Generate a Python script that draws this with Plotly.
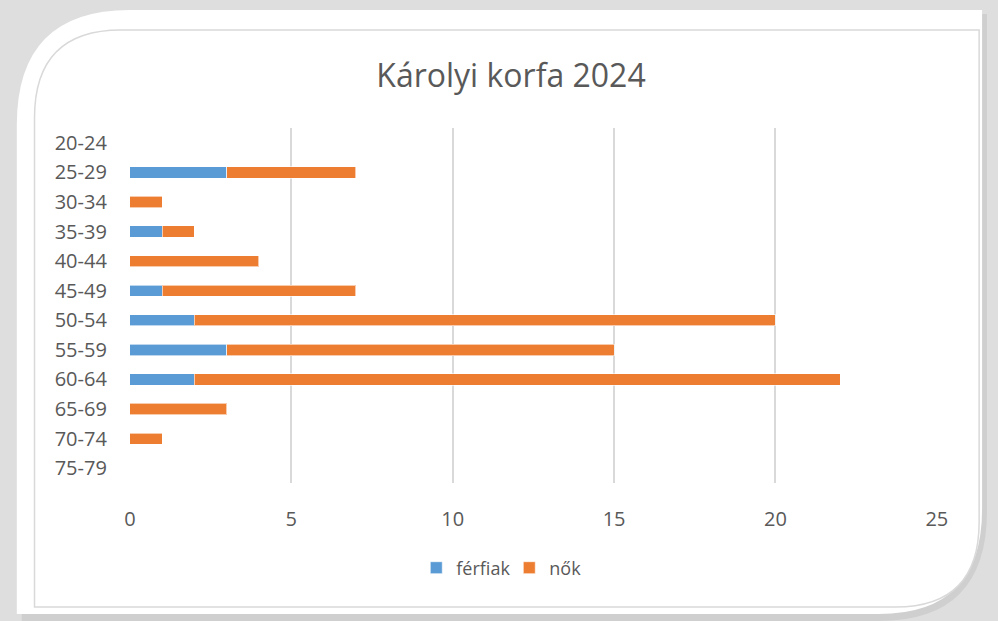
import plotly.graph_objects as go

korcsoport = ['20-24', '25-29', '30-34', '35-39', '40-44', '45-49',
              '50-54', '55-59', '60-64', '65-69', '70-74', '75-79']
ferfiak = [0, 3, 0, 1, 0, 1, 2, 3, 2, 0, 0, 0]
nok = [0, 4, 1, 1, 4, 6, 18, 12, 20, 3, 1, 0]
x_ticks = [0, 5, 10, 15, 20, 25]

W, H = 998, 621
FONT = 'Open Sans'
TXT = '#595959'


def px(x):
    return x / W


def py(y):
    return 1 - y / H


def rounded_box(x0, y0, x1, y1, r_tl, r_br):
    # rectangle in pixel coords, top-left and bottom-right corners rounded
    p = [
        f'M {px(x0)},{py(y0 + r_tl)}',
        f'Q {px(x0)},{py(y0)} {px(x0 + r_tl)},{py(y0)}',
        f'L {px(x1)},{py(y0)}',
        f'L {px(x1)},{py(y1 - r_br)}',
        f'Q {px(x1)},{py(y1)} {px(x1 - r_br)},{py(y1)}',
        f'L {px(x0)},{py(y1)}',
        'Z',
    ]
    return ' '.join(p)


fig = go.Figure()
fig.add_trace(go.Bar(y=korcsoport, x=ferfiak, name='férfiak', orientation='h',
                     marker=dict(color='#5B9BD5', line=dict(color='rgba(255,255,255,0.6)', width=1))))
fig.add_trace(go.Bar(y=korcsoport, x=nok, name='nők', orientation='h',
                     marker=dict(color='#ED7D31', line=dict(color='rgba(255,255,255,0.6)', width=1))))

shapes = [
    # soft shadow
    dict(type='path', xref='paper', yref='paper', layer='below',
         path=rounded_box(16, 14, 998, 621, 115, 110),
         fillcolor='#cfcfcf', line=dict(width=0)),
    # white card
    dict(type='path', xref='paper', yref='paper', layer='below',
         path=rounded_box(11, 10, 993, 614, 115, 105),
         fillcolor='white', line=dict(width=0)),
    # inner chart border
    dict(type='path', xref='paper', yref='paper', layer='below',
         path=rounded_box(29, 30, 990, 607, 88, 85),
         fillcolor='white', line=dict(color='#d9d9d9', width=1.5)),
]

fig.update_layout(
    width=W, height=H,
    margin=dict(l=0, r=0, t=0, b=0),
    paper_bgcolor='#dedede',
    plot_bgcolor='rgba(0,0,0,0)',
    barmode='stack',
    bargap=0.62,
    shapes=shapes,
    font=dict(family=FONT, color=TXT, size=20),
    title=dict(text='Károlyi korfa 2024', x=px(511), xanchor='center',
               y=py(76), yanchor='middle',
               font=dict(family=FONT, size=32, color=TXT)),
    xaxis=dict(domain=[px(126), px(947)], range=[0, 25], tickvals=x_ticks,
               showgrid=True, gridcolor='#d9d9d9', gridwidth=1.5, zeroline=False,
               showline=False, ticks='', ticklabelstandoff=22,
               tickfont=dict(size=20, color=TXT)),
    yaxis=dict(domain=[py(483), py(128)], type='category', autorange='reversed',
               showgrid=False, zeroline=False, ticks='', ticklabelstandoff=22,
               tickfont=dict(size=20, color=TXT)),
    legend=dict(orientation='h', x=px(512), xanchor='center', y=py(568), yanchor='middle',
                bgcolor='rgba(0,0,0,0)', font=dict(size=18, color=TXT),
                itemwidth=30, entrywidth=48, traceorder='normal'),
    showlegend=True,
)

page_css = ("document.body.style.margin='0';"
            "document.body.style.overflow='hidden';"
            "document.documentElement.style.overflow='hidden';")
fig.write_html('out.html', config={'displayModeBar': False}, post_script=page_css)
